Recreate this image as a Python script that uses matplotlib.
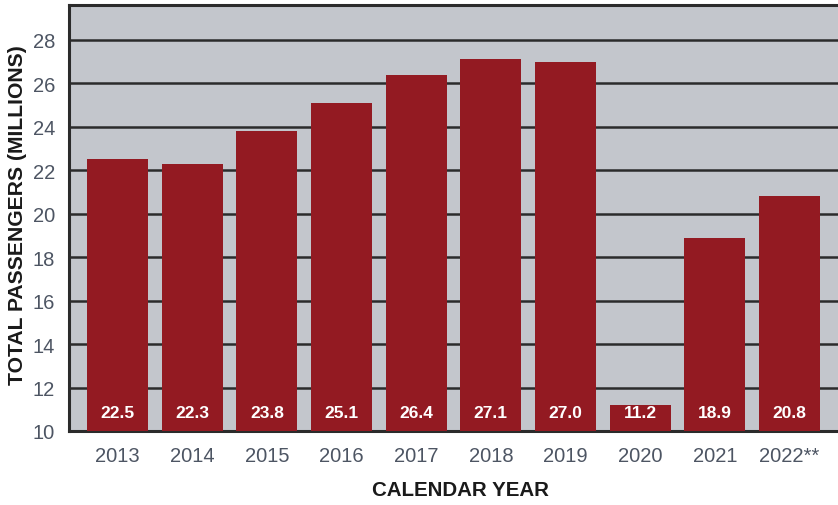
import matplotlib
matplotlib.use("Agg")
import matplotlib.pyplot as plt

years = ["2013", "2014", "2015", "2016", "2017", "2018", "2019", "2020", "2021", "2022**"]
passengers = [22.5, 22.3, 23.8, 25.1, 26.4, 27.1, 27.0, 11.2, 18.9, 20.8]
yticks = [10, 12, 14, 16, 18, 20, 22, 24, 26, 28]

fig = plt.figure(figsize=(8.38, 5.06), dpi=100)
ax = fig.add_axes([69/838, 1 - 432/506, 1 - 69/838, (432 - 6)/506])
ax.set_facecolor("#c3c6cc")

x = list(range(len(years)))
ax.bar(x, passengers, width=0.82, bottom=0, color="#931a22", zorder=3)
ax.set_xlim(-0.65, len(years) - 1 + 0.65)
ax.set_ylim(10, 29.6)

for yv in yticks[1:]:
    ax.axhline(yv, color="#2b2b2b", linewidth=1.8, zorder=2)

for xi, v in zip(x, passengers):
    ax.text(xi, 10.83, f"{v:.1f}", ha="center", va="center", color="white",
            fontsize=12.5, fontweight="bold", family="Liberation Sans", zorder=4)

ax.set_xticks(x)
ax.set_xticklabels(years)
ax.set_yticks(yticks)
ax.tick_params(axis="both", length=0, labelsize=14.5, colors="#4d5563")
ax.tick_params(axis="x", pad=11)
ax.tick_params(axis="y", pad=10)
for lab in ax.get_xticklabels() + ax.get_yticklabels():
    lab.set_family("Liberation Sans")

for side in ["left", "bottom", "top"]:
    ax.spines[side].set_color("#2b2b2b")
    ax.spines[side].set_linewidth(2.2)
ax.spines["right"].set_visible(False)

fig.text(460/838, 1 - 491/506, "CALENDAR YEAR", ha="center", va="center",
         fontsize=14.8, fontweight="bold", family="Liberation Sans", color="#1a1a1a")
fig.text(18/838, 1 - 215/506, "TOTAL PASSENGERS (MILLIONS)", ha="center", va="center",
         rotation=90, fontsize=15.2, fontweight="bold", family="Liberation Sans", color="#1a1a1a")

fig.savefig("out.png", dpi=100)
